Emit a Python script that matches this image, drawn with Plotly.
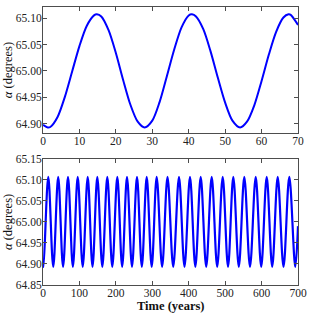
import plotly.graph_objects as go
from plotly.subplots import make_subplots

# ---- Top panel: first 70 years ----
top_time = [0, 1.3, 2, 4, 6, 8, 10, 12, 14, 14.8, 16, 18, 20, 22, 24, 26, 27.9, 30, 32, 34,
            36, 38, 40, 40.9, 42, 44, 46, 48, 50, 52, 54.1, 56, 58, 60, 62, 64, 66, 67.4,
            68, 70]
top_alpha = [64.898, 64.893, 64.894, 64.913, 64.951, 64.999, 65.047, 65.085, 65.105,
             65.107, 65.103, 65.077, 65.034, 64.983, 64.936, 64.904, 64.893, 64.906,
             64.941, 64.990, 65.040, 65.082, 65.105, 65.107, 65.103, 65.079, 65.037,
             64.987, 64.940, 64.906, 64.893, 64.904, 64.935, 64.981, 65.031, 65.074,
             65.101, 65.107, 65.106, 65.087]

# ---- Bottom panel: 700 years, extrema ----
bot_time = [0, 1.3, 14.5, 28.1, 41.7, 55.1, 68.6, 82.0, 95.3, 109.0, 122.7, 135.9,
            149.1, 162.8, 176.5, 190.2, 204.0, 217.3, 230.6, 244.3, 258.0, 271.3,
            284.7, 298.4, 312.1, 327.0, 341.8, 357.5, 373.3, 388.4, 403.5, 418.2,
            432.9, 448.0, 463.1, 478.2, 493.3, 507.9, 522.4, 537.5, 552.6, 568.2,
            583.9, 599.0, 614.1, 629.2, 644.3, 660.2, 676.1, 692.5, 700.0]
bot_alpha = [64.899, 64.893, 65.107, 64.893, 65.107, 64.893, 65.107, 64.893, 65.107,
             64.893, 65.107, 64.893, 65.107, 64.893, 65.107, 64.893, 65.107, 64.893,
             65.107, 64.893, 65.107, 64.893, 65.107, 64.893, 65.107, 64.893, 65.107,
             64.893, 65.107, 64.893, 65.107, 64.893, 65.107, 64.893, 65.107, 64.893,
             65.107, 64.893, 65.107, 64.893, 65.107, 64.893, 65.107, 64.893, 65.107,
             64.893, 65.107, 64.893, 65.107, 64.893, 64.990]

top_xticks = [0, 10, 20, 30, 40, 50, 60, 70]
top_yticks = [64.90, 64.95, 65.00, 65.05, 65.10]
bot_xticks = [0, 100, 200, 300, 400, 500, 600, 700]
bot_yticks = [64.85, 64.90, 64.95, 65.00, 65.05, 65.10, 65.15]

FONT = "Liberation Serif"
LINE = "#0000ff"
AX = "#4d4d4d"

fig = make_subplots(rows=2, cols=1, vertical_spacing=0.0926)

fig.add_trace(go.Scatter(x=top_time, y=top_alpha, mode="lines",
                         line=dict(color=LINE, width=2, shape="spline", smoothing=0.8),
                         showlegend=False), row=1, col=1)
fig.add_trace(go.Scatter(x=bot_time, y=bot_alpha, mode="lines",
                         line=dict(color=LINE, width=2.2, shape="spline", smoothing=1.0),
                         showlegend=False), row=2, col=1)

axis_common = dict(showline=True, linecolor=AX, linewidth=1, mirror="allticks",
                   ticks="inside", ticklen=4, tickcolor=AX, tickwidth=1,
                   showgrid=False, zeroline=False, automargin=False,
                   tickfont=dict(family=FONT, size=11.5, color="#222222"))

fig.update_xaxes(range=[0, 70], tickvals=top_xticks, ticktext=[str(v) for v in top_xticks],
                 ticklabelstandoff=-3, row=1, col=1, **axis_common)
fig.update_yaxes(range=[64.8824, 65.1209], tickvals=top_yticks,
                 ticktext=[f"{v:.2f}" for v in top_yticks], ticklabelstandoff=-2,
                 row=1, col=1, **axis_common)
fig.update_xaxes(range=[0, 700], tickvals=bot_xticks, ticktext=[str(v) for v in bot_xticks],
                 ticklabelstandoff=-3, row=2, col=1, **axis_common)
fig.update_yaxes(range=[64.85, 65.15], tickvals=bot_yticks,
                 ticktext=[f"{v:.2f}" for v in bot_yticks], ticklabelstandoff=-2,
                 row=2, col=1, **axis_common)

title_font = dict(family=FONT, size=12.5, color="#111111")
fig.add_annotation(text="<i>α</i> (degrees)", xref="paper", yref="y domain",
                   x=-0.137, y=0.5, textangle=-90, showarrow=False,
                   xanchor="center", yanchor="middle", font=title_font)
fig.add_annotation(text="<i>α</i> (degrees)", xref="paper", yref="y2 domain",
                   x=-0.137, y=0.5, textangle=-90, showarrow=False,
                   xanchor="center", yanchor="middle", font=title_font)
fig.add_annotation(text="<b>Time (years)</b>", xref="x2 domain", yref="y2 domain",
                   x=0.5, y=-0.166, showarrow=False,
                   xanchor="center", yanchor="middle", font=title_font)

fig.update_layout(template="none", width=317, height=317,
                  margin=dict(l=43, r=19, t=7, b=32),
                  paper_bgcolor="white", plot_bgcolor="white")

fig.write_html("out.html", config={"displayModeBar": False},
               post_script="document.body.style.margin='0';document.body.style.overflow='hidden';")
